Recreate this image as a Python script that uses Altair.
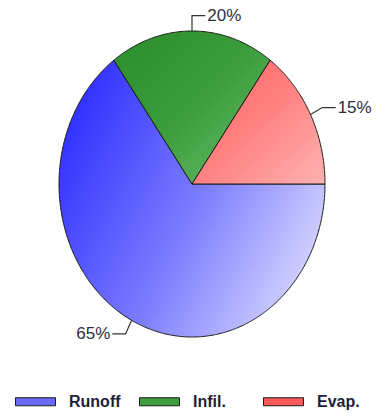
import altair as alt
import numpy as np
import pandas as pd

categories = ["Runoff", "Infil.", "Evap."]
values = [65, 20, 15]
pct_labels = ["65%", "20%", "15%"]
legend_colors = ["#6a6aff", "#3f9f3f", "#ff5a5a"]
gradients = {
    "Runoff": [("#3232ff", 0.0), ("#7c7cff", 0.5), ("#dedeff", 1.0)],
    "Infil.": [("#2a8d2a", 0.0), ("#3c9d3c", 0.5), ("#6cc06c", 1.0)],
    "Evap.": [("#ff5e5e", 0.0), ("#ff8282", 0.5), ("#ffb2b2", 1.0)],
}
grad_dir = {
    "Runoff": (0, 0.3, 1, 0.8),
    "Infil.": (0, 0, 1, 1),
    "Evap.": (0, 0, 1, 1),
}

# ---- geometry in data units (unit ellipse mapped by the x / y scales) ----
total = float(sum(values))
poly_rows, leader_rows, label_rows = [], [], []
start = 0.0
for cat, v, lab in reversed(list(zip(categories, values, pct_labels))):
    span = v / total * 360.0
    a0, a1 = start, start + span
    start = a1
    angs = np.linspace(a0, a1, int(span * 2) + 2)
    poly_rows.append(dict(cat=cat, i=0, x=0.0, y=0.0))
    for k, a in enumerate(angs):
        r = np.radians(a)
        poly_rows.append(dict(cat=cat, i=k + 1, x=float(np.cos(r)), y=float(np.sin(r))))
    m = np.radians((a0 + a1) / 2)
    cx, cy = float(np.cos(m)), float(np.sin(m))
    side = 1.0 if cx > -1e-9 else -1.0
    ex, ey = 1.1 * cx, 1.1 * cy
    hx = ex + side * 0.1
    leader_rows += [
        dict(cat=cat, i=0, x=cx, y=cy),
        dict(cat=cat, i=1, x=ex, y=ey),
        dict(cat=cat, i=2, x=hx, y=ey),
    ]
    label_rows.append(dict(cat=cat, label=lab, x=hx, y=ey, side="right" if side > 0 else "left"))

poly = pd.DataFrame(poly_rows)
leaders = pd.DataFrame(leader_rows)
labels = pd.DataFrame(label_rows)
legend_df = pd.DataFrame({"cat": categories, "x": [0.0] * 3, "y": [0.0] * 3})

W, H = 385, 419
XD = [-1.4436, 1.4511]
YD = [-1.5359, 1.2026]
xenc = alt.X("x:Q", scale=alt.Scale(domain=XD, nice=False, zero=False), axis=None)
yenc = alt.Y("y:Q", scale=alt.Scale(domain=YD, nice=False, zero=False), axis=None)

layers = []
for cat in categories:
    stops = [alt.GradientStop(color=c, offset=o) for c, o in gradients[cat]]
    x1, y1, x2, y2 = grad_dir[cat]
    layers.append(
        alt.Chart(poly)
        .transform_filter(alt.datum.cat == cat)
        .mark_line(
            interpolate="linear-closed",
            fill=alt.Gradient(gradient="linear", stops=stops, x1=x1, y1=y1, x2=x2, y2=y2),
            stroke="#1a1a1a",
            strokeWidth=1,
        )
        .encode(x=xenc, y=yenc, order=alt.Order("i:Q"))
    )

leader_layer = (
    alt.Chart(leaders)
    .mark_line(stroke="#333333", strokeWidth=1.2)
    .encode(x=xenc, y=yenc, detail="cat:N", order=alt.Order("i:Q"))
)

txt_right = (
    alt.Chart(labels)
    .transform_filter(alt.datum.side == "right")
    .mark_text(align="left", baseline="middle", dx=2, font="Liberation Sans", fontSize=17, color="#2e2e3e")
    .encode(x=xenc, y=yenc, text="label:N")
)
txt_left = (
    alt.Chart(labels)
    .transform_filter(alt.datum.side == "left")
    .mark_text(align="right", baseline="middle", dx=-2, font="Liberation Sans", fontSize=17, color="#2e2e3e")
    .encode(x=xenc, y=yenc, text="label:N")
)

legend_layer = (
    alt.Chart(legend_df)
    .mark_point(filled=True, opacity=0, size=1)
    .encode(
        x=xenc,
        y=yenc,
        fill=alt.Fill(
            "cat:N",
            scale=alt.Scale(domain=categories, range=legend_colors),
            sort=categories,
            legend=alt.Legend(
                title=None,
                orient="none",
                legendX=15,
                legendY=381,
                direction="horizontal",
                columns=3,
                gridAlign="all",
                columnPadding=16,
                padding=0,
                symbolType="M-1,-0.2 L1,-0.2 L1,0.2 L-1,0.2 Z",
                symbolSize=1600,
                symbolStrokeColor="#1a1a1a",
                symbolStrokeWidth=1,
                symbolOpacity=1,
                labelOffset=13,
                labelFont="Liberation Sans",
                labelFontSize=16,
                labelFontWeight="bold",
                labelColor="#1e1e3a",
                labelLimit=200,
            ),
        ),
    )
)

chart = (
    alt.layer(*layers, leader_layer, txt_right, txt_left, legend_layer)
    .properties(width=W, height=H, padding=0, autosize=alt.AutoSizeParams(type="none"), background="white")
    .configure_view(stroke=None)
)

chart.save("out.html", embed_options={"renderer": "svg", "actions": False})
